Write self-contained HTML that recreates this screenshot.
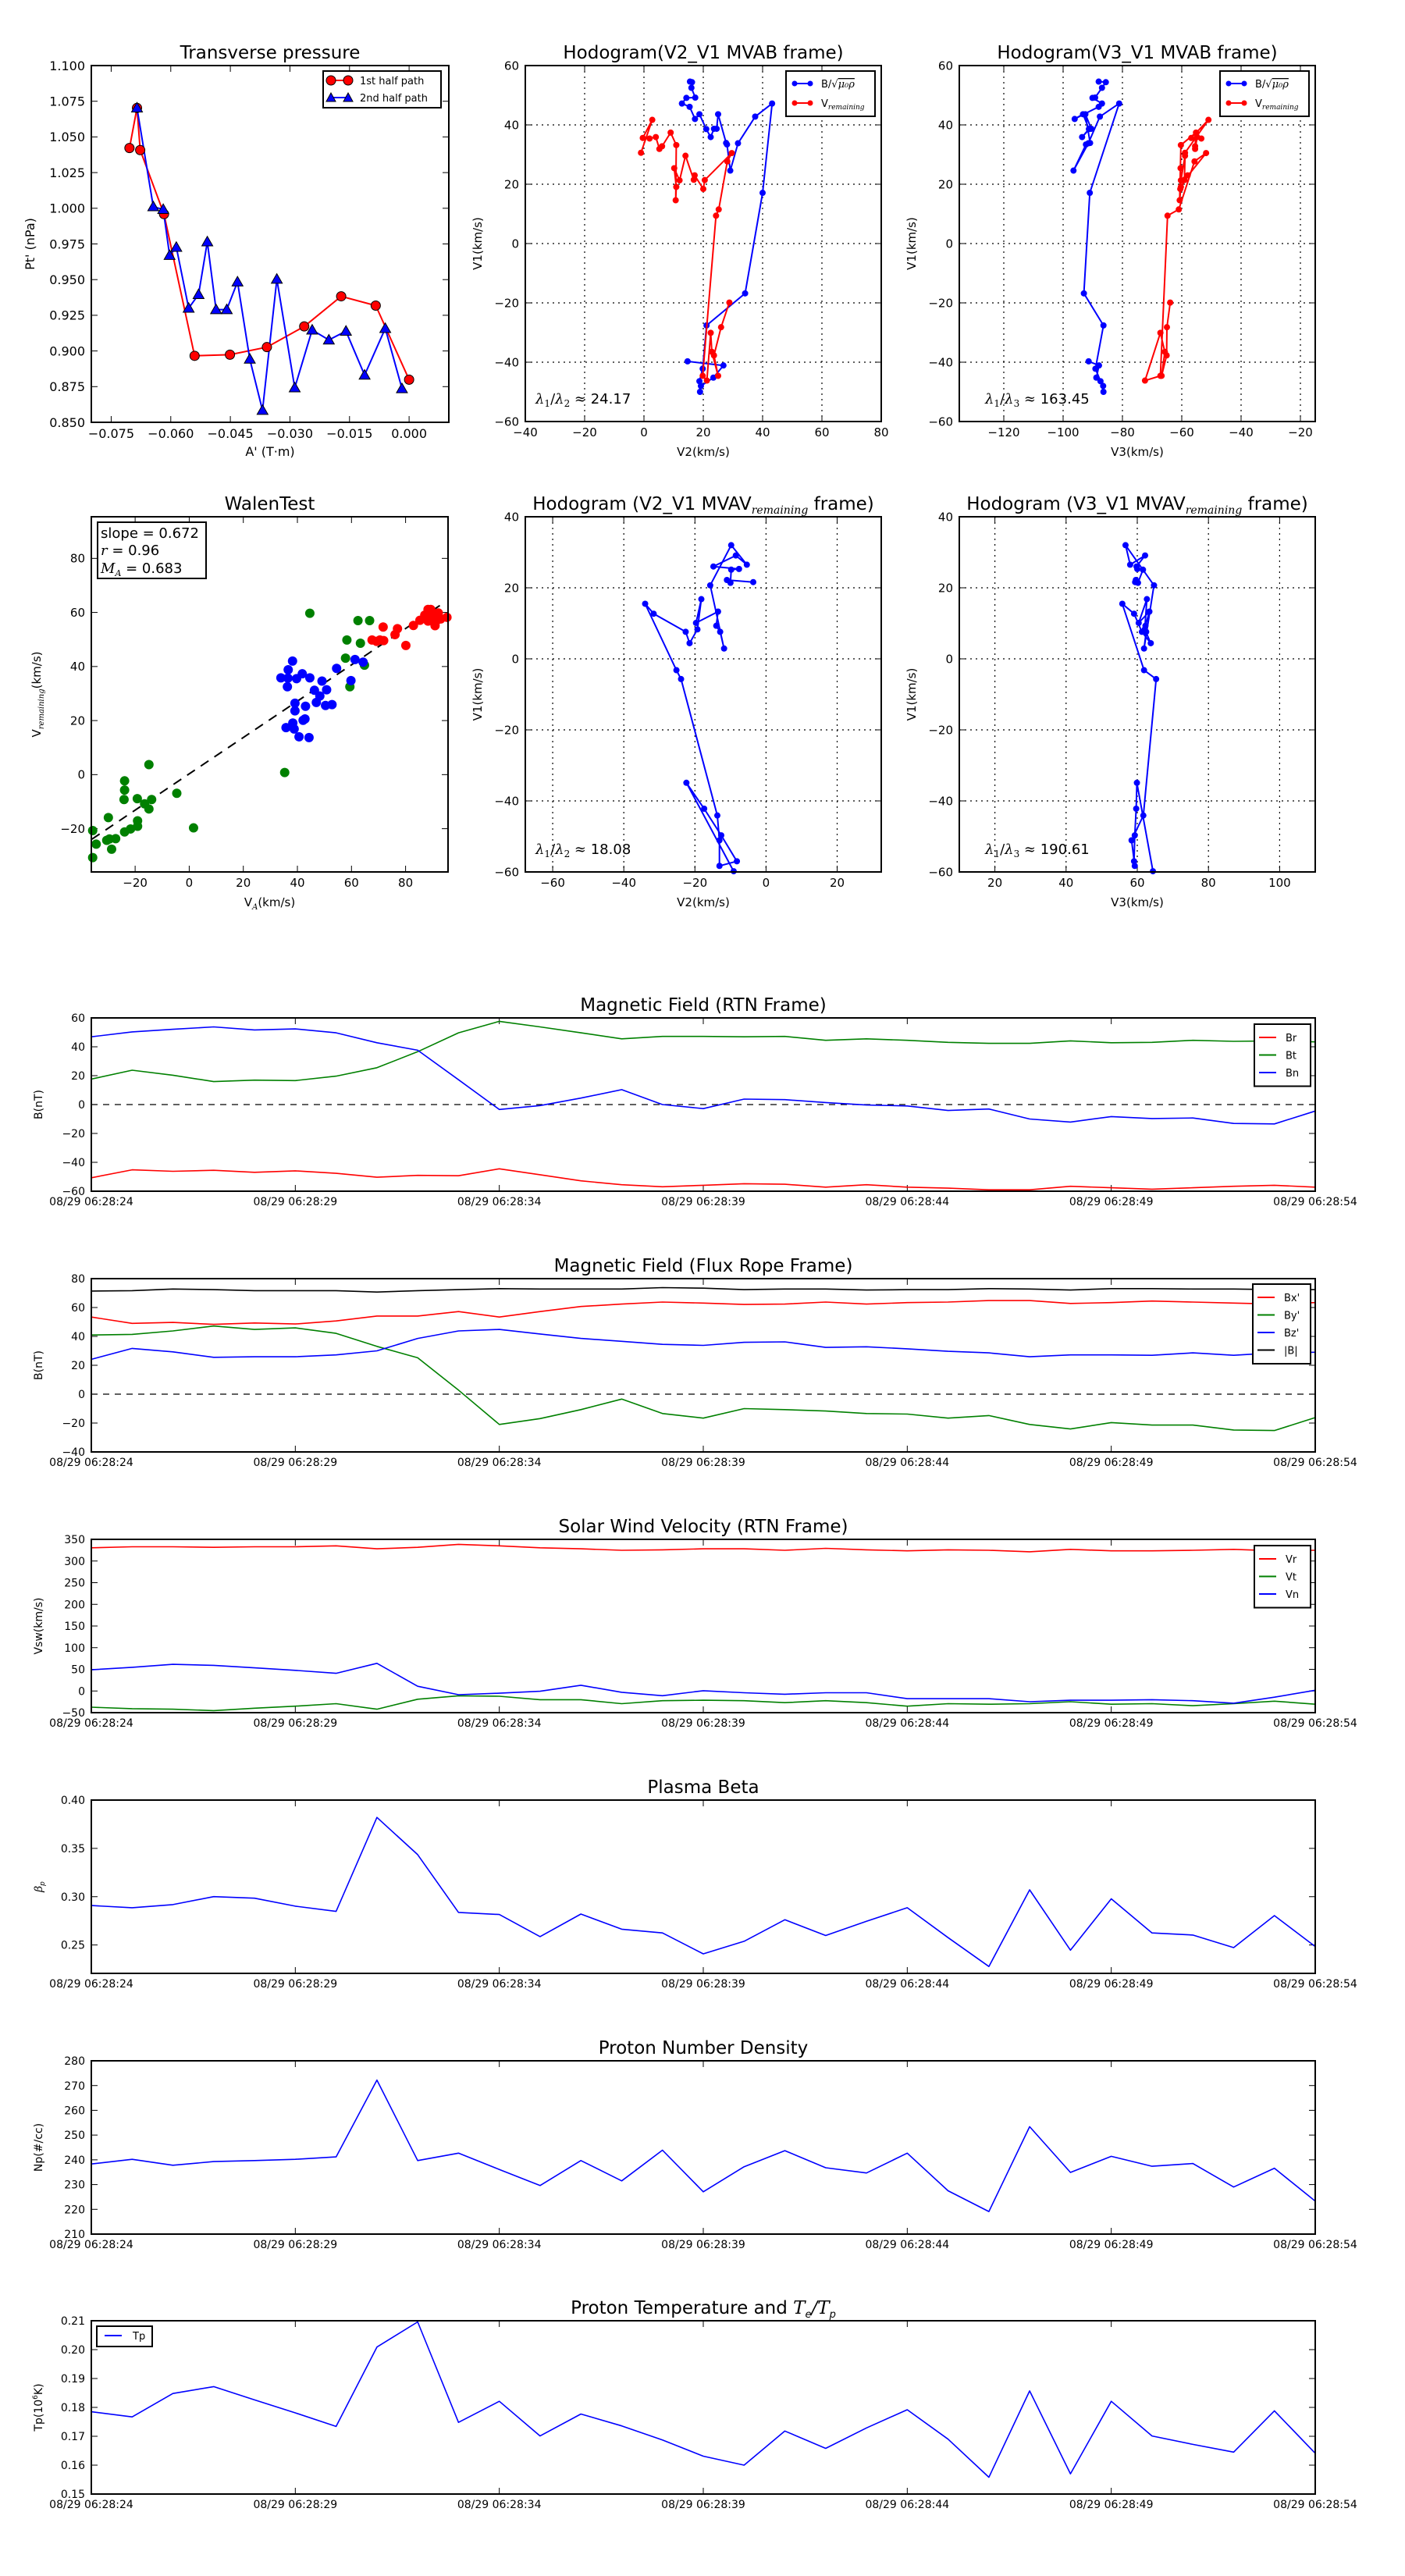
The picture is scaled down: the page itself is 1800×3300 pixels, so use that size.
<!DOCTYPE html>
<html><head><meta charset="utf-8"><title>Flux rope analysis</title>
<style>
html,body{margin:0;padding:0;background:#fff;}
svg{display:block;font-family:"DejaVu Sans","Liberation Sans",sans-serif;}
</style></head>
<body>
<svg id="fig" width="1800" height="3300" viewBox="0 0 1800 3300" xmlns="http://www.w3.org/2000/svg"></svg>
<script>
// ---------------- DATA ----------------
const ptA1 = [-0.0704,-0.0685,-0.0677,-0.0617,-0.054,-0.0451,-0.0358,-0.0264,-0.0171,-0.0084,0];
const ptP1 = [1.0422,1.0703,1.0408,0.9959,0.8966,0.8974,0.9027,0.9172,0.9383,0.9318,0.8799];
const ptA2 = [-0.0685,-0.0644,-0.0619,-0.0603,-0.0586,-0.0555,-0.0530,-0.0508,-0.0486,-0.0459,-0.0432,-0.0401,-0.0369,-0.0333,-0.0288,-0.0244,-0.0202,-0.0159,-0.0112,-0.0060,-0.0018];
const ptP2 = [1.0703,1.0011,0.9992,0.967,0.9727,0.930,0.9396,0.9765,0.929,0.929,0.9484,0.8943,0.8584,0.9503,0.8742,0.9147,0.9077,0.9139,0.8831,0.9158,0.8736];

const hbV1 = [-39.7,-41.1,-45.2,-48,-50,-46.4,-42.2,-27.6,-16.8,17.1,47.2,42.8,33.8,24.6,33.4,33.9,43.6,38.7,38.7,35.9,38.6,43.6,42,46.1,47.2,49.1,49.2,52.5,54.4,54.6];
const hbV2 = [14.7,26.8,23.4,19.2,18.9,18.7,19.8,21.1,34.1,40,43.2,37.5,31.7,29.1,28,27.7,25,24.5,23.6,22.5,21,18.7,17.2,15.4,12.8,14.3,17.3,16,16.2,15.5];
const hbV3 = [-91.4,-87.9,-88.8,-86.5,-86.4,-87.4,-89.1,-86.4,-93,-91,-81.1,-87.6,-91.5,-96.5,-92.3,-90.9,-92.5,-90.5,-91,-93.6,-91.3,-93.3,-96.1,-88,-86.9,-90.1,-89.2,-86.9,-85.6,-88];
const hrV1 = [-19.9,-28.2,-37.7,-44.6,-36.5,-30.1,-46.2,-44.6,9.4,11.5,27.7,30.5,21.4,18.4,23,21.5,29.6,21.3,25.4,19.1,14.6,33.2,37.4,32.8,31.9,35.9,35.4,35.6,41.7,30.6];
const hrV2 = [28.8,26,23.6,25,22.9,22.5,21.2,19.8,24.3,25.2,28.1,29.6,20.5,20,17.1,16.8,14,12,10.2,10.9,10.7,10.9,9,6.1,5.2,4,1.9,-0.4,2.8,-1];
const hrV3 = [-63.9,-65,-65.1,-66.8,-65.7,-67.2,-72.4,-67.2,-64.8,-61,-55.7,-51.8,-59.1,-60.5,-58,-59.1,-58.9,-60.3,-60.4,-60.3,-60.7,-60.3,-55.2,-55.5,-55.5,-54.8,-53.4,-56.8,-51,-58.9];

const mvV1 = [-59.8,-34.9,-42.2,-49.7,-57,-58.3,-51.1,-44.1,-5.7,-3.2,15.5,12.7,7.6,4.4,8.3,16.8,10.1,13.3,9.3,7.6,2.9,20.7,32,26.5,29.1,26,25.3,25.1,21.4,22.2,21.6];
const mvV2 = [-9.1,-22.4,-17.4,-12.6,-8.2,-13.1,-13.1,-13.7,-23.9,-25.2,-34,-31.6,-22.6,-21.5,-19.3,-18.2,-19.7,-13.5,-14,-12.9,-11.8,-15.7,-9.8,-5.4,-8.5,-14.8,-7.6,-9.8,-10,-11,-3.6];
const mvV3 = [64.4,59.9,59.7,59.3,59.1,59.3,58.4,61.7,65.3,61.9,55.8,59.1,61.3,63.8,62.1,62.7,60.4,63.4,62.3,62.5,61.9,64.7,56.7,58,62.2,59.8,60,61.6,60.2,59.6,59.4];

const walGx = [-35.7,-34.4,-35.7,-29.9,-30.5,-29.5,-28.7,-27.2,-23.9,-23.9,-24.1,-23.9,-21.7,-19.1,-19.1,-19.2,-16.5,-14.9,-14.9,-13.9,-4.6,1.6,35.3,44.6,58.3,57.8,62.4,66.7,63.3,59.4,64.8];
const walGy = [-20.7,-25.7,-30.7,-15.9,-24.3,-23.8,-27.6,-23.7,-2.3,-5.7,-9.2,-21.2,-20.1,-17.1,-19.1,-8.9,-10.8,3.7,-12.7,-9.2,-6.9,-19.7,0.8,59.7,49.8,43.1,57,57,48.6,32.5,40.5];
const walBx = [33.9,36.5,36.6,38.2,36.3,39.7,41.8,44.6,39.1,39.1,35.8,38.3,38.8,40.6,44.3,42.1,42.8,43,46.3,47,48.3,49.1,50.8,50.4,52.8,54.5,59.8,61.3,64.3];
const walBy = [35.8,35.7,38.8,42,32.5,35.5,37.3,35.8,26.4,23.6,17.4,19.1,16.9,14,13.7,20.1,20.6,25.3,31.2,26.7,29.1,34.6,31.4,25.6,25.9,39.3,34.8,42.6,41.6];
const walRx = [67.6,69.3,70.5,71.7,71.9,76.1,77,80.1,82.9,85.3,87.1,88.3,89.3,88.3,90.3,90.9,92.1,93,95.3,89.8,91.3];
const walRy = [49.8,49.3,49.8,54.6,49.6,51.8,54,47.8,55.2,57.1,59,61.1,61.1,56.8,58.1,55.1,59.8,57.6,58.2,59,56.8];
const walFit = [0.672, 0.3];
const walFitX = [-36, 92.7];

const tSec = [0,1,2,3,4,5,6,7,8,9,10,11,12,13,14,15,16,17,18,19,20,21,22,23,24,25,26,27,28,29,30];
const tickSec = [0,5,10,15,20,25,30];
const tickLbl = ["08/29 06:28:24","08/29 06:28:29","08/29 06:28:34","08/29 06:28:39","08/29 06:28:44","08/29 06:28:49","08/29 06:28:54"];
const Br = [-50.7,-45.2,-46.2,-45.5,-46.9,-45.9,-47.6,-50.3,-49,-49.3,-44.5,-48.6,-52.8,-55.5,-56.9,-55.9,-54.8,-55.2,-57.2,-55.5,-57.2,-57.9,-59,-59,-56.6,-57.6,-58.6,-57.6,-56.6,-55.9,-57.2];
const Bt = [17.6,23.8,20.3,15.9,16.9,16.6,19.7,25.5,36.6,49.7,57.6,53.8,49.7,45.5,47.2,47.2,46.9,47.2,44.5,45.5,44.5,43.1,42.4,42.4,44.1,42.8,43.1,44.5,43.8,44.1,43.4];
const Bn = [46.9,50.3,52.1,53.8,51.7,52.4,49.7,42.8,37.6,17.2,-3.4,-0.7,4.5,10.3,0,-2.8,3.8,3.4,1.4,-0.3,-1,-4.1,-3.1,-10,-12.1,-8.3,-9.7,-9.3,-13.1,-13.4,-4.5];
const Bx = [53.4,49,49.7,48.3,49.3,48.6,50.7,54.1,54.1,57.2,53.4,57.2,60.7,62.4,63.8,63.1,62.1,62.4,63.8,62.4,63.4,63.8,64.8,64.8,62.8,63.4,64.5,63.8,63.1,62.4,63.4];
const By = [41,41.4,43.8,47.2,44.8,45.9,42.1,33.1,25.2,2.8,-21,-16.9,-10.7,-3.4,-13.4,-16.6,-10,-10.7,-11.7,-13.4,-13.8,-16.6,-14.8,-21,-24.1,-19.7,-21.4,-21.4,-24.8,-25.2,-16.2];
const Bz = [24.1,31.7,29.3,25.5,25.9,25.9,27.2,30,38.6,43.8,44.8,41.7,38.6,36.6,34.5,33.8,35.9,36.2,32.4,32.8,31.4,29.7,28.6,25.9,27.2,27.2,26.9,28.6,26.9,28.6,29];
const Bmag = [71.4,71.7,72.8,72.4,71.7,71.7,71.7,70.7,71.7,72.4,73.1,72.8,72.8,72.8,73.8,73.4,72.4,72.8,72.8,72.1,72.4,72.4,73.1,72.8,72.1,73.1,73.1,72.8,72.8,72.4,72.4];
const Vr = [330.5,332.8,332.8,331.6,332.8,332.8,335,328.2,331.6,338.5,335,330.5,328.2,324.7,325.9,328.2,328.2,324.7,329.3,325.9,323.6,325.9,324.7,321.3,327,323.6,323.6,324.7,327,323.6,324.7];
const Vt = [-37.4,-40.8,-42,-45.4,-39.7,-35.1,-29.3,-42,-19,-11,-12.1,-20.1,-20.1,-29.3,-22.4,-21.3,-22.4,-27,-22.4,-27,-35.1,-29.3,-30.5,-29.3,-24.7,-30.5,-29.3,-33.9,-29.3,-23.6,-30.5];
const Vn = [48.9,54.6,61.5,59.2,53.4,47.7,40.8,63.8,10.9,-8.6,-5.2,-0.6,13.2,-2.9,-10.9,0.6,-4,-7.5,-4,-4,-17.8,-17.8,-17.8,-24.7,-21.3,-21.3,-20.1,-22.4,-28.2,-14.4,1.7];
const beta = [0.2908,0.2886,0.2918,0.3,0.2984,0.2902,0.2848,0.3821,0.3435,0.2837,0.2815,0.2587,0.282,0.2663,0.2625,0.2408,0.2538,0.2761,0.2598,0.2745,0.2886,0.2576,0.2277,0.3071,0.2446,0.2978,0.2625,0.2603,0.2473,0.2804,0.2484];
const Np = [238.3,240.2,237.8,239.3,239.7,240.2,241.2,272.2,239.7,242.7,236.1,229.6,239.7,231.5,243.9,227.1,237.2,243.7,236.8,234.7,242.7,227.5,219.1,253.4,234.9,241.4,237.4,238.5,229,236.6,223.3];
const Tp = [0.1785,0.1767,0.1848,0.1872,0.1826,0.1781,0.1734,0.2009,0.2096,0.1748,0.1821,0.1701,0.1777,0.1736,0.1687,0.1631,0.16,0.1718,0.1658,0.1729,0.1792,0.169,0.1558,0.1857,0.157,0.1821,0.1701,0.1672,0.1645,0.1788,0.1641];

// ---------------- HELPERS ----------------
const NS = "http://www.w3.org/2000/svg";
const fig = document.getElementById('fig');
function el(parent, tag, attrs, name, inter) {
  const e = document.createElementNS(NS, tag);
  for (const k in attrs) e.setAttribute(k, attrs[k]);
  
  
  parent.appendChild(e);
  return e;
}
function txt(parent, x, y, s, size, anchor, name, extra) {
  const a = {x: x, y: y, 'font-size': size, 'text-anchor': anchor || 'middle', fill: '#000'};
  if (extra) for (const k in extra) a[k] = extra[k];
  const t = el(parent, 'text', a, name, false);
  t.textContent = s;
  return t;
}
function fmt(v, d) { const s = Math.abs(v).toFixed(d); return (v < -1e-9 ? '\u2212' : '') + s; }
function makeAxes(name, x0, y0, w, h, xlim, ylim) {
  const g = el(fig, 'g', {}, name, false);
  const sx = v => x0 + (v - xlim[0]) / (xlim[1] - xlim[0]) * w;
  const sy = v => y0 + h - (v - ylim[0]) / (ylim[1] - ylim[0]) * h;
  return {g, sx, sy, x0, y0, w, h};
}
function frame(ax) {
  el(ax.g, 'rect', {x: ax.x0, y: ax.y0, width: ax.w, height: ax.h, fill: 'none', stroke: '#000', 'stroke-width': 2}, 'plot-frame', false);
}
function xTicks(ax, vals, labels, size, grid) {
  vals.forEach((v, i) => {
    const x = ax.sx(v);
    if (grid) el(ax.g, 'line', {x1: x, y1: ax.y0, x2: x, y2: ax.y0 + ax.h, stroke: '#000', 'stroke-width': 1.2, 'stroke-dasharray': '2,5'}, 'x-grid-line', false);
    el(ax.g, 'line', {x1: x, y1: ax.y0 + ax.h, x2: x, y2: ax.y0 + ax.h - 8, stroke: '#000', 'stroke-width': 1}, 'x-tick', false);
    el(ax.g, 'line', {x1: x, y1: ax.y0, x2: x, y2: ax.y0 + 8, stroke: '#000', 'stroke-width': 1}, 'x-tick-top', false);
    txt(ax.g, x, ax.y0 + ax.h + size + 4, labels[i], size, 'middle', 'x-tick-label');
  });
}
function yTicks(ax, vals, labels, size, grid) {
  vals.forEach((v, i) => {
    const y = ax.sy(v);
    if (grid) el(ax.g, 'line', {x1: ax.x0, y1: y, x2: ax.x0 + ax.w, y2: y, stroke: '#000', 'stroke-width': 1.2, 'stroke-dasharray': '2,5'}, 'y-grid-line', false);
    el(ax.g, 'line', {x1: ax.x0, y1: y, x2: ax.x0 + 8, y2: y, stroke: '#000', 'stroke-width': 1}, 'y-tick', false);
    el(ax.g, 'line', {x1: ax.x0 + ax.w, y1: y, x2: ax.x0 + ax.w - 8, y2: y, stroke: '#000', 'stroke-width': 1}, 'y-tick-right', false);
    txt(ax.g, ax.x0 - 8, y + size * 0.36, labels[i], size, 'end', 'y-tick-label');
  });
}
function title(ax, s, name) { return txt(ax.g, ax.x0 + ax.w / 2, ax.y0 - 9, s, 23, 'middle', name || 'plot-title'); }
function ylabel(ax, s, x, size, name) {
  const cy = ax.y0 + ax.h / 2;
  return txt(ax.g, x, cy, s, size, 'middle', name || 'y-axis-title', {transform: 'rotate(-90 ' + x + ' ' + cy + ')'});
}
function poly(ax, xs, ys, color, w, name) {
  const pts = xs.map((x, i) => ax.sx(x).toFixed(1) + ',' + ax.sy(ys[i]).toFixed(1)).join(' ');
  return el(ax.g, 'polyline', {points: pts, fill: 'none', stroke: color, 'stroke-width': w, 'stroke-linejoin': 'round'}, name, false);
}
function dots(ax, xs, ys, color, r, name, stroke) {
  xs.forEach((x, i) => {
    el(ax.g, 'circle', {cx: ax.sx(x), cy: ax.sy(ys[i]), r: r, fill: color, stroke: stroke || 'none', 'stroke-width': 1}, name, false);
  });
}
function tris(ax, xs, ys, color, s, name) {
  xs.forEach((x, i) => {
    const cx = ax.sx(x), cy = ax.sy(ys[i]);
    el(ax.g, 'polygon', {points: `${cx},${cy - s} ${cx - s},${cy + s * 0.75} ${cx + s},${cy + s * 0.75}`, fill: color, stroke: '#000', 'stroke-width': 1}, name, false);
  });
}
function range(a, b, s) { const r = []; for (let v = a; v <= b + 1e-9; v += s) r.push(Math.round(v * 1e6) / 1e6); return r; }

// ---------------- TRANSVERSE PRESSURE ----------------
{
  const ax = makeAxes('transverse-pressure-plot', 117, 84, 458, 457, [-0.08, 0.01], [0.85, 1.1]);
  const xt = range(-0.075, 0, 0.015), yt = range(0.85, 1.1, 0.025);
  xTicks(ax, xt, xt.map(v => fmt(v, 3)), 16);
  yTicks(ax, yt, yt.map(v => fmt(v, 3)), 16);
  poly(ax, ptA1, ptP1, '#ff0000', 2, 'first-half-path-line');
  poly(ax, ptA2, ptP2, '#0000ff', 2, 'second-half-path-line');
  dots(ax, ptA1, ptP1, '#ff0000', 6, 'first-half-marker', '#000');
  tris(ax, ptA2, ptP2, '#0000ff', 7, 'second-half-marker');
  frame(ax);
  title(ax, 'Transverse pressure', 'transverse-pressure-title');
  txt(ax.g, 346, 584, "A' (T\u00b7m)", 16, 'middle', 'x-axis-title');
  ylabel(ax, "Pt' (nPa)", 44, 16);
  const lg = el(ax.g, 'g', {}, 'legend', false);
  el(lg, 'rect', {x: 414, y: 91, width: 151, height: 47, fill: '#fff', stroke: '#000', 'stroke-width': 2}, 'legend-frame', false);
  el(lg, 'line', {x1: 424, y1: 103, x2: 446, y2: 103, stroke: '#f00', 'stroke-width': 2}, 'legend-line-first', false);
  el(lg, 'circle', {cx: 424, cy: 103, r: 6, fill: '#f00', stroke: '#000'}, 'legend-marker-first', false);
  el(lg, 'circle', {cx: 446, cy: 103, r: 6, fill: '#f00', stroke: '#000'}, 'legend-marker-first', false);
  txt(lg, 461, 108, '1st half path', 13, 'start', 'legend-label-first');
  el(lg, 'line', {x1: 424, y1: 125, x2: 446, y2: 125, stroke: '#00f', 'stroke-width': 2}, 'legend-line-second', false);
  el(lg, 'polygon', {points: '424,119 418,130 430,130', fill: '#00f', stroke: '#000'}, 'legend-marker-second', false);
  el(lg, 'polygon', {points: '446,119 440,130 452,130', fill: '#00f', stroke: '#000'}, 'legend-marker-second', false);
  txt(lg, 461, 130, '2nd half path', 13, 'start', 'legend-label-second');
}

// legend helper for hodograms
function hodoLegend(ax, x, y, name) {
  const lg = el(ax.g, 'g', {}, name, false);
  el(lg, 'rect', {x: x, y: y, width: 114, height: 58, fill: '#fff', stroke: '#000', 'stroke-width': 2}, 'legend-frame', false);
  el(lg, 'line', {x1: x + 11, y1: y + 16, x2: x + 31, y2: y + 16, stroke: '#00f', 'stroke-width': 2}, 'legend-line-b', false);
  el(lg, 'circle', {cx: x + 11, cy: y + 16, r: 3.5, fill: '#00f'}, 'legend-marker-b', false);
  el(lg, 'circle', {cx: x + 31, cy: y + 16, r: 3.5, fill: '#00f'}, 'legend-marker-b', false);
  const t1 = txt(lg, x + 45, y + 21, 'B/\u221a', 13, 'start', 'legend-label-b');
  const ts = document.createElementNS(NS, 'tspan');
  ts.setAttribute('font-family', '"DejaVu Serif",serif');
  ts.setAttribute('font-style', 'italic');
  ts.setAttribute('text-decoration', 'overline');
  ts.textContent = '\u03bc\u2080\u03c1';
  t1.appendChild(ts);
  el(lg, 'line', {x1: x + 11, y1: y + 41, x2: x + 31, y2: y + 41, stroke: '#f00', 'stroke-width': 2}, 'legend-line-v', false);
  el(lg, 'circle', {cx: x + 11, cy: y + 41, r: 3.5, fill: '#f00'}, 'legend-marker-v', false);
  el(lg, 'circle', {cx: x + 31, cy: y + 41, r: 3.5, fill: '#f00'}, 'legend-marker-v', false);
  const t2 = txt(lg, x + 45, y + 46, 'V', 13, 'start', 'legend-label-v');
  const ts2 = document.createElementNS(NS, 'tspan');
  ts2.setAttribute('font-size', 9);
  ts2.setAttribute('font-style', 'italic');
  ts2.setAttribute('font-family', '"DejaVu Serif",serif');
  ts2.setAttribute('dy', 3);
  ts2.textContent = 'remaining';
  t2.appendChild(ts2);
}
function ratioText(ax, x, y, sub, val, name) {
  const t = txt(ax.g, x, y, '', 18, 'start', name, {'font-family': '"DejaVu Serif",serif'});
  t.innerHTML = '<tspan font-style="italic">\u03bb</tspan><tspan font-size="12" dy="4">1</tspan><tspan dy="-4">/</tspan><tspan font-style="italic">\u03bb</tspan><tspan font-size="12" dy="4">' + sub + '</tspan><tspan dy="-4"> \u2248 </tspan><tspan font-family="DejaVu Sans,sans-serif">' + val + '</tspan>';
}

// ---------------- HODOGRAM V2_V1 MVAB ----------------
{
  const ax = makeAxes('hodogram-v2-v1-mvab-plot', 673, 84, 456, 456, [-40, 80], [-60, 60]);
  const xt = range(-40, 80, 20), yt = range(-60, 60, 20);
  xTicks(ax, xt, xt.map(v => fmt(v, 0)), 15, true);
  yTicks(ax, yt, yt.map(v => fmt(v, 0)), 15, true);
  poly(ax, hbV2, hbV1, '#0000ff', 2, 'b-hodogram-line');
  dots(ax, hbV2, hbV1, '#0000ff', 4, 'b-hodogram-point');
  poly(ax, hrV2, hrV1, '#ff0000', 2, 'v-hodogram-line');
  dots(ax, hrV2, hrV1, '#ff0000', 4, 'v-hodogram-point');
  frame(ax);
  title(ax, 'Hodogram(V2_V1 MVAB frame)', 'hodogram-v2-mvab-title');
  txt(ax.g, ax.x0 + ax.w / 2, 584, 'V2(km/s)', 15, 'middle', 'x-axis-title');
  ylabel(ax, 'V1(km/s)', 617, 15);
  hodoLegend(ax, 1007, 91, 'legend');
  ratioText(ax, 686, 517, '2', '24.17', 'eigenvalue-ratio');
}
// ---------------- HODOGRAM V3_V1 MVAB ----------------
{
  const ax = makeAxes('hodogram-v3-v1-mvab-plot', 1229, 84, 456, 456, [-135, -15], [-60, 60]);
  const xt = range(-120, -20, 20), yt = range(-60, 60, 20);
  xTicks(ax, xt, xt.map(v => fmt(v, 0)), 15, true);
  yTicks(ax, yt, yt.map(v => fmt(v, 0)), 15, true);
  poly(ax, hbV3, hbV1, '#0000ff', 2, 'b-hodogram-line');
  dots(ax, hbV3, hbV1, '#0000ff', 4, 'b-hodogram-point');
  poly(ax, hrV3, hrV1, '#ff0000', 2, 'v-hodogram-line');
  dots(ax, hrV3, hrV1, '#ff0000', 4, 'v-hodogram-point');
  frame(ax);
  title(ax, 'Hodogram(V3_V1 MVAB frame)', 'hodogram-v3-mvab-title');
  txt(ax.g, ax.x0 + ax.w / 2, 584, 'V3(km/s)', 15, 'middle', 'x-axis-title');
  ylabel(ax, 'V1(km/s)', 1173, 15);
  hodoLegend(ax, 1563, 91, 'legend');
  ratioText(ax, 1262, 517, '3', '163.45', 'eigenvalue-ratio');
}
// ---------------- WALEN TEST ----------------
{
  const ax = makeAxes('walen-test-plot', 117, 662, 457, 455, [-36.2, 95.7], [-36, 95.4]);
  const xt = range(-20, 80, 20), yt = range(-20, 80, 20);
  xTicks(ax, xt, xt.map(v => fmt(v, 0)), 15);
  yTicks(ax, yt, yt.map(v => fmt(v, 0)), 15);
  el(ax.g, 'line', {x1: ax.sx(walFitX[0]), y1: ax.sy(walFit[0] * walFitX[0] + walFit[1]), x2: ax.sx(walFitX[1]), y2: ax.sy(walFit[0] * walFitX[1] + walFit[1]), stroke: '#000', 'stroke-width': 2, 'stroke-dasharray': '12,9'}, 'fit-line', false);
  dots(ax, walGx, walGy, '#008000', 6, 'walen-point-green');
  dots(ax, walBx, walBy, '#0000ff', 6, 'walen-point-blue');
  dots(ax, walRx, walRy, '#ff0000', 6, 'walen-point-red');
  frame(ax);
  title(ax, 'WalenTest', 'walen-test-title');
  txt(ax.g, ax.x0 + ax.w / 2, 1161, '', 15, 'middle', 'x-axis-title').innerHTML = 'V<tspan font-size="10" dy="4" font-style="italic" font-family="DejaVu Serif,serif">A</tspan><tspan dy="-4">(km/s)</tspan>';
  const yl = ylabel(ax, '', 52, 15);
  yl.innerHTML = 'V<tspan font-size="10" dy="4" font-style="italic" font-family="DejaVu Serif,serif">remaining</tspan><tspan dy="-4">(km/s)</tspan>';
  const bx = el(ax.g, 'g', {}, 'fit-stats-box', false);
  el(bx, 'rect', {x: 125, y: 669, width: 139, height: 72, fill: '#fff', stroke: '#000', 'stroke-width': 2}, 'stats-frame', false);
  txt(bx, 129, 689, 'slope = 0.672', 18, 'start', 'slope-text');
  txt(bx, 129, 711, '', 18, 'start', 'r-text').innerHTML = '<tspan font-style="italic" font-family="DejaVu Serif,serif">r</tspan> = 0.96';
  txt(bx, 129, 734, '', 18, 'start', 'ma-text').innerHTML = '<tspan font-style="italic" font-family="DejaVu Serif,serif">M</tspan><tspan font-size="11" dy="4" font-style="italic" font-family="DejaVu Serif,serif">A</tspan><tspan dy="-4"> = 0.683</tspan>';
}
// ---------------- HODOGRAM MVAV V2 ----------------
{
  const ax = makeAxes('hodogram-v2-v1-mvav-plot', 673, 662, 456, 455, [-67.7, 32.4], [-60, 40]);
  const xt = range(-60, 20, 20), yt = range(-60, 40, 20);
  xTicks(ax, xt, xt.map(v => fmt(v, 0)), 15, true);
  yTicks(ax, yt, yt.map(v => fmt(v, 0)), 15, true);
  poly(ax, mvV2, mvV1, '#0000ff', 2, 'b-hodogram-line');
  dots(ax, mvV2, mvV1, '#0000ff', 4, 'b-hodogram-point');
  frame(ax);
  txt(ax.g, ax.x0 + ax.w / 2, ax.y0 - 9, '', 23, 'middle', 'hodogram-v2-mvav-title').innerHTML = 'Hodogram (V2_V1 MVAV<tspan font-size="14" dy="5" font-style="italic" font-family="DejaVu Serif,serif">remaining</tspan><tspan dy="-5"> frame)</tspan>';
  txt(ax.g, ax.x0 + ax.w / 2, 1161, 'V2(km/s)', 15, 'middle', 'x-axis-title');
  ylabel(ax, 'V1(km/s)', 617, 15);
  ratioText(ax, 686, 1094, '2', '18.08', 'eigenvalue-ratio');
}
// ---------------- HODOGRAM MVAV V3 ----------------
{
  const ax = makeAxes('hodogram-v3-v1-mvav-plot', 1229, 662, 456, 455, [10, 110], [-60, 40]);
  const xt = range(20, 100, 20), yt = range(-60, 40, 20);
  xTicks(ax, xt, xt.map(v => fmt(v, 0)), 15, true);
  yTicks(ax, yt, yt.map(v => fmt(v, 0)), 15, true);
  poly(ax, mvV3, mvV1, '#0000ff', 2, 'b-hodogram-line');
  dots(ax, mvV3, mvV1, '#0000ff', 4, 'b-hodogram-point');
  frame(ax);
  txt(ax.g, ax.x0 + ax.w / 2, ax.y0 - 9, '', 23, 'middle', 'hodogram-v3-mvav-title').innerHTML = 'Hodogram (V3_V1 MVAV<tspan font-size="14" dy="5" font-style="italic" font-family="DejaVu Serif,serif">remaining</tspan><tspan dy="-5"> frame)</tspan>';
  txt(ax.g, ax.x0 + ax.w / 2, 1161, 'V3(km/s)', 15, 'middle', 'x-axis-title');
  ylabel(ax, 'V1(km/s)', 1173, 15);
  ratioText(ax, 1262, 1094, '3', '190.61', 'eigenvalue-ratio');
}

// ---------------- TIME SERIES ----------------
function timeAxes(name, top, ylim, yt, ydec) {
  const ax = makeAxes(name, 117, top, 1568, 222, [0, 30], ylim);
  xTicks(ax, tickSec, tickLbl, 14);
  yTicks(ax, yt, yt.map(v => fmt(v, ydec)), 14);
  return ax;
}
function tsLegend(ax, x, y, w, names, colors, name) {
  const lg = el(ax.g, 'g', {}, name, false);
  el(lg, 'rect', {x: x, y: y, width: w, height: 12 + names.length * 22.5, fill: '#fff', stroke: '#000', 'stroke-width': 2}, 'legend-frame', false);
  names.forEach((n, i) => {
    const yy = y + 17 + i * 22.5;
    el(lg, 'line', {x1: x + 6, y1: yy, x2: x + 28, y2: yy, stroke: colors[i], 'stroke-width': 2}, 'legend-line', false);
    txt(lg, x + 40, yy + 5, n, 13, 'start', 'legend-label');
  });
}
function zeroLine(ax) {
  el(ax.g, 'line', {x1: ax.x0, y1: ax.sy(0), x2: ax.x0 + ax.w, y2: ax.sy(0), stroke: '#000', 'stroke-width': 1.2, 'stroke-dasharray': '8,7'}, 'zero-line', false);
}
{
  const ax = timeAxes('magnetic-field-rtn-plot', 1304, [-60, 60], range(-60, 60, 20), 0);
  zeroLine(ax);
  poly(ax, tSec, Br, '#ff0000', 1.6, 'series-br');
  poly(ax, tSec, Bt, '#008000', 1.6, 'series-bt');
  poly(ax, tSec, Bn, '#0000ff', 1.6, 'series-bn');
  frame(ax);
  title(ax, 'Magnetic Field (RTN Frame)', 'magnetic-field-rtn-title');
  ylabel(ax, 'B(nT)', 54, 14);
  tsLegend(ax, 1607, 1312, 72, ['Br', 'Bt', 'Bn'], ['#f00', '#008000', '#00f'], 'legend');
}
{
  const ax = timeAxes('magnetic-field-flux-rope-plot', 1638, [-40, 80], range(-40, 80, 20), 0);
  zeroLine(ax);
  poly(ax, tSec, Bmag, '#000000', 1.6, 'series-bmag');
  poly(ax, tSec, Bx, '#ff0000', 1.6, 'series-bx');
  poly(ax, tSec, By, '#008000', 1.6, 'series-by');
  poly(ax, tSec, Bz, '#0000ff', 1.6, 'series-bz');
  frame(ax);
  title(ax, 'Magnetic Field (Flux Rope Frame)', 'magnetic-field-flux-rope-title');
  ylabel(ax, 'B(nT)', 54, 14);
  tsLegend(ax, 1605, 1645, 74, ["Bx'", "By'", "Bz'", '|B|'], ['#f00', '#008000', '#00f', '#000'], 'legend');
}
{
  const ax = timeAxes('solar-wind-velocity-plot', 1972, [-50, 350], range(-50, 350, 50), 0);
  poly(ax, tSec, Vr, '#ff0000', 1.6, 'series-vr');
  poly(ax, tSec, Vt, '#008000', 1.6, 'series-vt');
  poly(ax, tSec, Vn, '#0000ff', 1.6, 'series-vn');
  frame(ax);
  title(ax, 'Solar Wind Velocity (RTN Frame)', 'solar-wind-velocity-title');
  ylabel(ax, 'Vsw(km/s)', 54, 14);
  tsLegend(ax, 1607, 1980, 72, ['Vr', 'Vt', 'Vn'], ['#f00', '#008000', '#00f'], 'legend');
}
{
  const ax = timeAxes('plasma-beta-plot', 2306, [0.2206, 0.40], range(0.25, 0.40, 0.05), 2);
  poly(ax, tSec, beta, '#0000ff', 1.6, 'series-beta');
  frame(ax);
  title(ax, 'Plasma Beta', 'plasma-beta-title');
  ylabel(ax, '', 54, 14).innerHTML = '<tspan font-style="italic" font-family="DejaVu Serif,serif">\u03b2</tspan><tspan font-size="9" dy="3" font-style="italic">p</tspan>';
}
{
  const ax = timeAxes('proton-density-plot', 2640, [210, 280], range(210, 280, 10), 0);
  poly(ax, tSec, Np, '#0000ff', 1.6, 'series-np');
  frame(ax);
  title(ax, 'Proton Number Density', 'proton-density-title');
  ylabel(ax, 'Np(#/cc)', 54, 14);
}
{
  const ax = timeAxes('proton-temperature-plot', 2973, [0.15, 0.21], range(0.15, 0.21, 0.01), 2);
  poly(ax, tSec, Tp, '#0000ff', 1.6, 'series-tp');
  frame(ax);
  txt(ax.g, ax.x0 + ax.w / 2, ax.y0 - 9, '', 23, 'middle', 'proton-temperature-title').innerHTML = 'Proton Temperature and <tspan font-style="italic" font-family="DejaVu Serif,serif">T</tspan><tspan font-size="13" dy="5" font-style="italic">e</tspan><tspan dy="-5" font-style="italic" font-family="DejaVu Serif,serif">/T</tspan><tspan font-size="13" dy="5" font-style="italic">p</tspan>';
  ylabel(ax, '', 54, 14).innerHTML = 'Tp(10<tspan font-size="9" dy="-6">6</tspan><tspan dy="6">K)</tspan>';
  const lg = el(ax.g, 'g', {}, 'legend', false);
  el(lg, 'rect', {x: 124, y: 2980, width: 71, height: 26, fill: '#fff', stroke: '#000', 'stroke-width': 2}, 'legend-frame', false);
  el(lg, 'line', {x1: 134, y1: 2992, x2: 156, y2: 2992, stroke: '#00f', 'stroke-width': 2}, 'legend-line', false);
  txt(lg, 170, 2997, 'Tp', 13, 'start', 'legend-label');
}
</script>
</body></html>
